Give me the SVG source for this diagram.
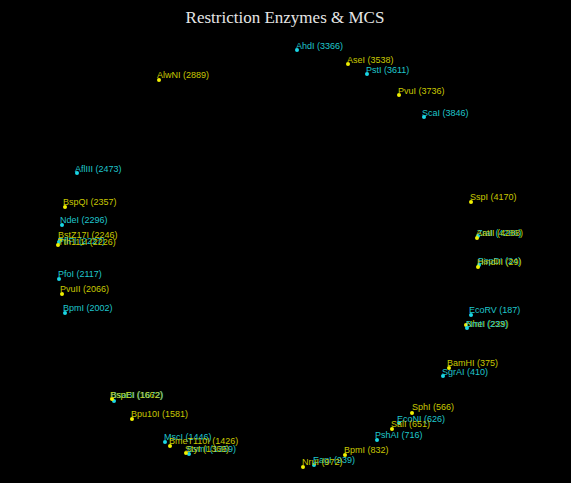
<svg xmlns="http://www.w3.org/2000/svg" width="571" height="483" viewBox="0 0 571 483">
<style>
text{font-family:"Liberation Sans",Arial,sans-serif;font-size:9px}
.c text{fill:#1fc6cc}.c circle{fill:#19d6e6}
.y text{fill:#c8c800}.y circle{fill:#f0f000}
.t{font-family:"Liberation Serif","Times New Roman",serif;font-size:17px;fill:#e6e6e6}
</style>
<rect width="571" height="483" fill="#000"/>
<text class="t" x="285" y="23" text-anchor="middle">Restriction Enzymes &amp; MCS</text>
<g id="connectors"/>
<g id="AhdI" class="c"><circle cx="297" cy="50" r="2"/><text x="296" y="49">AhdI (3366)</text></g>
<g id="AseI" class="y"><circle cx="348" cy="64" r="2"/><text x="347" y="63">AseI (3538)</text></g>
<g id="PstI" class="c"><circle cx="367" cy="74" r="2"/><text x="366" y="73">PstI (3611)</text></g>
<g id="PvuI" class="y"><circle cx="399" cy="95" r="2"/><text x="398" y="94">PvuI (3736)</text></g>
<g id="ScaI" class="c"><circle cx="424" cy="117" r="2"/><text x="422" y="116">ScaI (3846)</text></g>
<g id="AlwNI" class="y"><circle cx="159" cy="80" r="2"/><text x="157" y="78">AlwNI (2889)</text></g>
<g id="AflIII" class="c"><circle cx="77" cy="173" r="2"/><text x="75" y="172">AflIII (2473)</text></g>
<g id="BspQI" class="y"><circle cx="65" cy="207" r="2"/><text x="63" y="205">BspQI (2357)</text></g>
<g id="NdeI" class="c"><circle cx="62" cy="225" r="2"/><text x="60" y="223">NdeI (2296)</text></g>
<g id="BstZ17I" class="y"><circle cx="60" cy="240" r="2"/><text x="58" y="238">BstZ17I (2246)</text></g>
<g id="PflFI" class="c"><circle cx="59" cy="242" r="2"/><text x="58" y="244">PflFI (2227)</text></g>
<g id="Tth111I" class="y"><circle cx="58" cy="245" r="2"/><text x="58" y="245">Tth111I (2226)</text></g>
<g id="PfoI" class="c"><circle cx="59" cy="279" r="2"/><text x="58" y="277">PfoI (2117)</text></g>
<g id="PvuII" class="y"><circle cx="62" cy="294" r="2"/><text x="60" y="292">PvuII (2066)</text></g>
<g id="BpmI2002" class="c"><circle cx="65" cy="313" r="2"/><text x="63" y="311">BpmI (2002)</text></g>
<g id="SspI" class="y"><circle cx="471" cy="202" r="2"/><text x="470" y="200">SspI (4170)</text></g>
<g id="ZraI" class="c"><circle cx="478" cy="236" r="2"/><text x="477" y="236">ZraI (4286)</text></g>
<g id="AatII" class="y"><circle cx="477" cy="238" r="2"/><text x="476" y="236">AatII (4288)</text></g>
<g id="BspDI" class="c"><circle cx="479" cy="265" r="2"/><text x="478" y="264">BspDI (24)</text></g>
<g id="HindIII" class="y"><circle cx="478" cy="267" r="2"/><text x="477" y="265">HindIII (29)</text></g>
<g id="EcoRV" class="c"><circle cx="471" cy="315" r="2"/><text x="469" y="313">EcoRV (187)</text></g>
<g id="NheI" class="y"><circle cx="466" cy="325" r="2"/><text x="466" y="327">NheI (229)</text></g>
<g id="BmtI" class="c"><circle cx="467" cy="328" r="2"/><text x="466" y="327">BmtI (233)</text></g>
<g id="BamHI" class="y"><circle cx="449" cy="368" r="2"/><text x="447" y="366">BamHI (375)</text></g>
<g id="SgrAI" class="c"><circle cx="443" cy="376" r="2"/><text x="442" y="375">SgrAI (410)</text></g>
<g id="SphI" class="y"><circle cx="412" cy="413" r="2"/><text x="412" y="410">SphI (566)</text></g>
<g id="EcoNI" class="c"><circle cx="399" cy="423" r="2"/><text x="397" y="422">EcoNI (626)</text></g>
<g id="SalI" class="y"><circle cx="392" cy="429" r="2"/><text x="391" y="427">SalI (651)</text></g>
<g id="PshAI" class="c"><circle cx="377" cy="440" r="2"/><text x="375" y="438">PshAI (716)</text></g>
<g id="BpmI832" class="y"><circle cx="345" cy="455" r="2"/><text x="344" y="453">BpmI (832)</text></g>
<g id="EagI" class="c"><circle cx="314" cy="465" r="2"/><text x="313" y="463">EagI (939)</text></g>
<g id="NruI" class="y"><circle cx="303" cy="467" r="2"/><text x="302" y="465">NruI (972)</text></g>
<g id="BsaBI" class="c"><circle cx="114" cy="401" r="2"/><text x="111" y="398">BsaBI (1672)</text></g>
<g id="BspEI" class="y"><circle cx="112" cy="399" r="2"/><text x="110" y="398">BspEI (1662)</text></g>
<g id="Bpu10I" class="y"><circle cx="132" cy="419" r="2"/><text x="131" y="417">Bpu10I (1581)</text></g>
<g id="MscI" class="c"><circle cx="165" cy="442" r="2"/><text x="164" y="440">MscI (1446)</text></g>
<g id="BmeT110I" class="y"><circle cx="170" cy="446" r="2"/><text x="169" y="444">BmeT110I (1426)</text></g>
<g id="BsmI" class="c"><circle cx="189" cy="454" r="2"/><text x="187" y="452">BsmI (1359)</text></g>
<g id="StyI" class="y"><circle cx="186" cy="453" r="2"/><text x="185" y="452">StyI (1369)</text></g>
</svg>
